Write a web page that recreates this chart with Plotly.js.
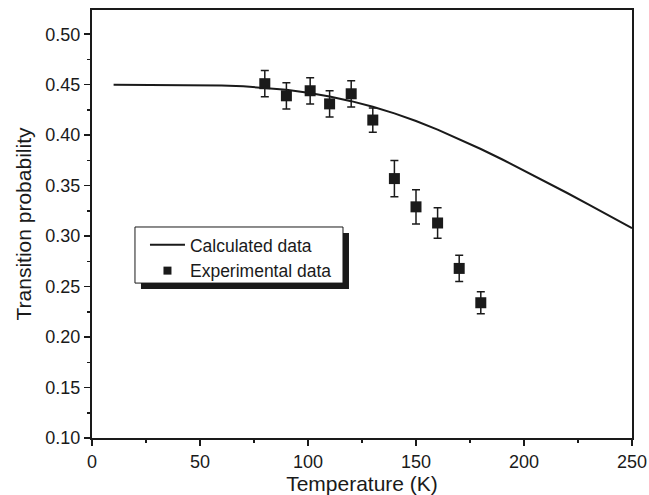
<!DOCTYPE html>
<html>
<head>
<meta charset="utf-8">
<script src="https://cdn.plot.ly/plotly-3.0.1.min.js"></script>
<style>html,body{margin:0;padding:0;background:#fff;}#chart{width:649px;height:495px;}</style>
</head>
<body>
<div id="chart"></div>
<script>
// Calculated curve
const calcT = [10, 20, 30, 40, 50, 60, 70, 80, 90, 100, 110, 120, 130, 140, 150, 160, 170, 180, 190, 200, 210, 220, 230, 240, 250];
const calcP = [0.4500, 0.4500, 0.4500, 0.4500, 0.4498, 0.4493, 0.4484, 0.4470, 0.4449, 0.4420, 0.4383, 0.4337, 0.4282, 0.4216, 0.4140, 0.4055, 0.3962, 0.3863, 0.3759, 0.3651, 0.3540, 0.3427, 0.3312, 0.3196, 0.3079];
// Experimental data
const expT = [80, 90, 101, 110, 120, 130, 140, 150, 160, 170, 180];
const expP = [0.451, 0.439, 0.444, 0.431, 0.441, 0.415, 0.357, 0.329, 0.313, 0.268, 0.234];
const expErr = [0.013, 0.013, 0.013, 0.013, 0.013, 0.012, 0.018, 0.017, 0.015, 0.013, 0.011];
// Tick labels
const yTicks = [0.10, 0.15, 0.20, 0.25, 0.30, 0.35, 0.40, 0.45, 0.50];
const yTickText = ["0.10", "0.15", "0.20", "0.25", "0.30", "0.35", "0.40", "0.45", "0.50"];
const xTicks = [0, 50, 100, 150, 200, 250];

const ink = '#1a1a1a';
const font = 'Liberation Sans, Arial, Helvetica, sans-serif';

const traces = [
  {x: calcT, y: calcP, mode: 'lines', name: 'Calculated data',
   line: {color: ink, width: 2}},
  {x: expT, y: expP, mode: 'markers', name: 'Experimental data', showlegend: false,
   marker: {symbol: 'square', size: 11, color: ink},
   error_y: {type: 'data', array: expErr, visible: true, color: ink, thickness: 1.5, width: 4}},
  // legend-only entry with the smaller legend symbol
  {x: [null], y: [null], mode: 'markers', name: 'Experimental data',
   marker: {symbol: 'square', size: 8, color: ink}}
];

const layout = {
  width: 649, height: 495,
  margin: {l: 92, r: 17, t: 10, b: 57},
  paper_bgcolor: '#fff', plot_bgcolor: '#fff',
  font: {family: font, color: ink, size: 18},
  showlegend: true,
  legend: {x: 0.0981, y: 0.493, xanchor: 'left', yanchor: 'top', bgcolor: 'rgba(0,0,0,0)',
           borderwidth: 0, itemwidth: 35, font: {size: 17.5, family: font, color: ink}},
  xaxis: {range: [0, 250], tickvals: xTicks, ticks: 'outside', ticklen: 6, tickwidth: 1.5, tickcolor: ink,
          showline: true, linewidth: 2, linecolor: ink, mirror: true, showgrid: false, zeroline: false,
          minor: {ticks: 'outside', ticklen: 3, tickwidth: 1.5, dtick: 25, tick0: 0, tickcolor: ink},
          tickfont: {size: 18}, title: {text: 'Temperature (K)', font: {size: 21}, standoff: 6}},
  yaxis: {range: [0.1, 0.524], tickvals: yTicks, ticktext: yTickText, ticks: 'outside', ticklen: 6, tickwidth: 1.5, tickcolor: ink,
          showline: true, linewidth: 2, linecolor: ink, mirror: true, showgrid: false, zeroline: false,
          minor: {ticks: 'outside', ticklen: 3, tickwidth: 1.5, dtick: 0.025, tick0: 0.1, tickcolor: ink},
          tickfont: {size: 18}, title: {text: 'Transition probability', font: {size: 21}, standoff: 8}},
  shapes: [
    {type: 'rect', xref: 'paper', yref: 'paper', x0: 0.0907, x1: 0.4759, y0: 0.348, y1: 0.479,
     fillcolor: ink, line: {width: 0}, layer: 'above'},
    {type: 'rect', xref: 'paper', yref: 'paper', x0: 0.0796, x1: 0.4648, y0: 0.362, y1: 0.493,
     fillcolor: '#fff', line: {width: 1, color: ink}, layer: 'above'}
  ]
};

Plotly.newPlot('chart', traces, layout, {displayModeBar: false, staticPlot: true});
</script>
</body>
</html>
